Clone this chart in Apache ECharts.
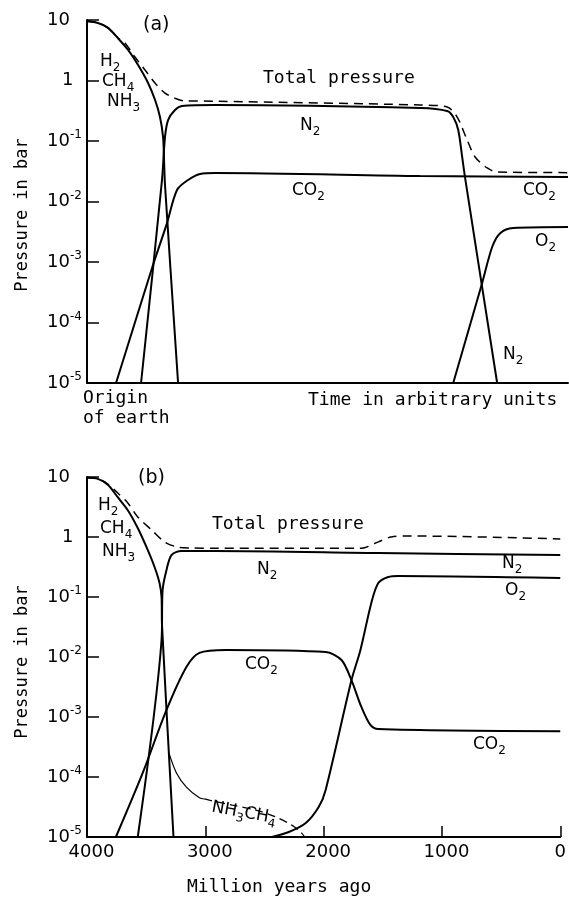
<!DOCTYPE html>
<html><head><meta charset="utf-8">
<script src="https://cdn.jsdelivr.net/npm/echarts@6/dist/echarts.min.js"></script>
<style>html,body{margin:0;padding:0;background:#fff}#c{width:569px;height:897px}</style>
</head><body><div id="c"></div>
<script>
// ---------- DATA: [time (Myr ago / arbitrary units), pressure (bar)] ----------
// Panel (a)
const topH2 = [[4000,9.5],[3908,8.9],[3824,7.4],[3740,5.0],[3655,3.2],[3571,1.8],[3487,0.91],[3429,0.48],[3387,0.25],[3361,0.116],[3353,0.049],[3345,0.019],[3235,1e-5]];
const topN2 = [[3546,1e-5],[3370,0.0227],[3345,0.116],[3319,0.222],[3261,0.325],[3202,0.38],[2924,0.394],[1202,0.351],[975,0.313],[924,0.249],[882,0.152],[849,0.0545],[824,0.0244],[555,1e-5]];
const topCO2 = [[3756,1e-5],[3445,9e-4],[3328,4.4e-3],[3244,0.0155],[3151,0.0227],[3050,0.0285],[2924,0.0296],[1202,0.0264],[-40,0.0254]];
const topO2 = [[924,1e-5],[681,4.5e-4],[597,1.77e-3],[530,3.0e-3],[420,3.65e-3],[-40,3.8e-3]];
const topTotal = [[4000,9.6],[3908,9.0],[3824,7.5],[3740,5.1],[3681,4.17],[3597,2.44],[3513,1.49],[3429,0.91],[3345,0.62],[3261,0.51],[3176,0.458],[2924,0.455],[1202,0.394],[975,0.365],[891,0.249],[807,0.104],[740,0.0545],[639,0.0358],[555,0.0307],[-40,0.030]];
// Panel (b)
const botH2 = [[4000,9.7],[3908,9.3],[3824,7.4],[3740,4.6],[3655,2.8],[3571,1.41],[3487,0.61],[3429,0.316],[3387,0.171],[3370,0.1],[3366,0.034],[3269,1e-5]];
const botResidual = [[3307,2.5e-4],[3244,1.17e-4],[3160,6.8e-5],[3050,4.5e-5],[3008,4.3e-5]];
const botNH3CH4 = [[3008,4.3e-5],[2966,4.1e-5],[2773,3.4e-5],[2571,2.8e-5],[2403,2.15e-5],[2269,1.58e-5],[2193,1.21e-5],[2160,1e-5]];
const botN2 = [[3571,1e-5],[3370,0.0192],[3361,0.131],[3328,0.282],[3286,0.5],[3202,0.585],[2924,0.585],[1538,0.541],[0,0.5]];
const botTotal = [[4000,9.8],[3908,9.4],[3824,7.6],[3740,5.4],[3655,3.7],[3571,2.15],[3454,1.31],[3345,0.83],[3235,0.68],[3118,0.656],[2924,0.65],[1681,0.65],[1538,0.83],[1429,1.0],[1261,1.04],[0,0.93]];
const botCO2 = [[3756,1e-5],[3529,1.17e-4],[3328,1.31e-3],[3160,6.8e-3],[3050,0.0117],[2824,0.0131],[1983,0.0121],[1849,8.9e-3],[1765,4.1e-3],[1681,1.47e-3],[1605,7.4e-4],[1538,6.3e-4],[0,5.8e-4]];
const botO2 = [[2437,1e-5],[2294,1.21e-5],[2151,1.71e-5],[2042,3.16e-5],[1983,6.1e-5],[1765,4.1e-3],[1689,0.0131],[1597,0.0794],[1538,0.171],[1454,0.215],[1370,0.224],[0,0.207]];
// Axes
const xTicks = [0, 1000, 2000, 3000, 4000];
const yMin = 1e-5, yMax = 10;

// ---------- CHART ----------
const FONT = 'DejaVu Sans';
const WFONT = 'DejaVu Sans Mono';
const chart = echarts.init(document.getElementById('c'), null, {renderer:'canvas'});

function yLabel(v){
  const e = Math.round(Math.log10(v));
  if (e === 1) return '10';
  if (e === 0) return '{one|1}';
  return '10{sup|-' + (-e) + '}';
}
function yAxis(gi){
  return {
    gridIndex: gi, type:'log', logBase:10, min:yMin, max:yMax,
    axisLine:{show:true, onZero:false, lineStyle:{color:'#000', width:2}},
    axisTick:{show:true, inside:true, length:12, lineStyle:{color:'#000', width:1.5}},
    axisLabel:{show:true, formatter:yLabel, align:'left', margin:40, color:'#000',
      fontFamily:FONT, fontSize:18, lineHeight:24,
      rich:{sup:{fontSize:12, fontFamily:FONT, verticalAlign:'top', color:'#000'},
            one:{fontSize:18, fontFamily:FONT, padding:[0,0,0,15], color:'#000'}}},
    splitLine:{show:false}, minorTick:{show:false}
  };
}
function line(data, gi, extra){
  const ls = Object.assign({color:'#000', width:2}, extra || {});
  return {type:'line', xAxisIndex:gi, yAxisIndex:gi, data:data, showSymbol:false, symbol:'none',
    smooth:0.3, lineStyle:ls, silent:true, z:3};
}
const dashed = {width:1.5, type:[9,6]};

const richChem = {s:{fontSize:12, fontFamily:FONT, verticalAlign:'bottom', fill:'#000'}};
function txt(text, x, y, opt){
  opt = opt || {};
  return {type:'text', x:x, y:y, rotation:opt.rot || 0, silent:true, z:10,
    style:{text:text, fontFamily:opt.font || FONT, fontSize:opt.size || 17, lineHeight:24, fill:'#000',
      align:opt.align || 'left', verticalAlign:'middle', rich:richChem}};
}
const W = {font:WFONT, size:18};

const option = {
  animation:false,
  backgroundColor:'#fff',
  grid:[
    {left:87, top:20, width:481, height:363},
    {left:87, top:477, width:476, height:360}
  ],
  xAxis:[
    {gridIndex:0, type:'value', inverse:true, min:-40, max:4000,
     axisLine:{show:true, onZero:false, lineStyle:{color:'#000', width:2}},
     axisTick:{show:false}, axisLabel:{show:false}, splitLine:{show:false}},
    {gridIndex:1, type:'value', inverse:true, min:xTicks[0], max:xTicks[xTicks.length-1], interval:1000,
     axisLine:{show:true, onZero:false, lineStyle:{color:'#000', width:2}},
     axisTick:{show:true, inside:true, length:11, lineStyle:{color:'#000', width:1.5}},
     axisLabel:{show:true, color:'#000', fontFamily:FONT, fontSize:18, margin:6,
       formatter:function(v){ return v === 0 ? '{z|0}' : '{n|' + v + '}'; },
       rich:{n:{fontSize:18, fontFamily:FONT, color:'#000', padding:[0,0,0,9]},
             z:{fontSize:18, fontFamily:FONT, color:'#000'}}},
     splitLine:{show:false}}
  ],
  yAxis:[yAxis(0), yAxis(1)],
  series:[
    line(topH2,0), line(topN2,0), line(topCO2,0), line(topO2,0), line(topTotal,0,dashed),
    line(botH2,1), line(botResidual,1,{width:1.2}), line(botNH3CH4,1,{width:1.3, type:[8,5]}),
    line(botN2,1), line(botCO2,1), line(botO2,1), line(botTotal,1,dashed)
  ],
  graphic:[
    // axis names
    txt('Pressure in bar', 23, 215, {rot:Math.PI/2, align:'center', font:WFONT, size:17}),
    txt('Pressure in bar', 23, 662, {rot:Math.PI/2, align:'center', font:WFONT, size:17}),
    // panel (a)
    txt('(a)', 143, 25, {size:19}),
    txt('H{s|2}', 100, 62), txt('CH{s|4}', 102, 82), txt('NH{s|3}', 107, 102),
    txt('Total pressure', 263, 78, W),
    txt('N{s|2}', 300, 126),
    txt('CO{s|2}', 292, 191), txt('CO{s|2}', 523, 191),
    txt('O{s|2}', 535, 242), txt('N{s|2}', 503, 355),
    txt('Origin', 83, 398, W), txt('of earth', 83, 418, W),
    txt('Time in arbitrary units', 308, 400, W),
    // panel (b)
    txt('(b)', 138, 478, {size:19}),
    txt('H{s|2}', 98, 506), txt('CH{s|4}', 100, 529), txt('NH{s|3}', 102, 552),
    txt('Total pressure', 212, 524, W),
    txt('N{s|2}', 257, 570), txt('N{s|2}', 502, 564), txt('O{s|2}', 505, 591),
    txt('CO{s|2}', 245, 665), txt('CO{s|2}', 473, 745),
    txt('NH{s|3}CH{s|4}', 244, 813, {rot:-0.18, align:'center'}),
    txt('Million years ago', 187, 887, W)
  ]
};
chart.setOption(option);
</script>
</body></html>
